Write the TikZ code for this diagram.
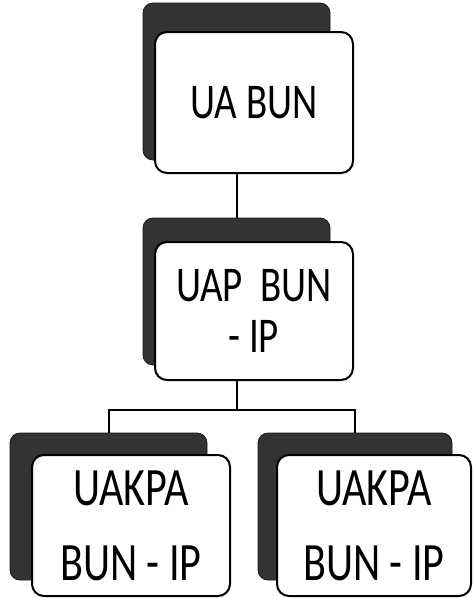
\documentclass[tikz,border=0pt]{standalone}
\usepackage{fontspec}
\newfontfamily\boxfont[FakeStretch=0.78]{Carlito}
\begin{document}
\begin{tikzpicture}[x=1pt,y=-1pt,
  shadowbox/.style={fill=black!80, draw=black!90, line width=0.8pt, rounded corners=10pt},
  whitebox/.style={fill=white, draw=black, line width=2pt, rounded corners=12pt, inner sep=0pt, align=center, font=\boxfont},
  conn/.style={draw=black, line width=2pt}]
\useasboundingbox (0,0) rectangle (473,598);
% shadows
\node[shadowbox, minimum width=187pt, minimum height=157pt] (topsh) at (236.5,81.5) {};
\node[shadowbox, minimum width=187pt, minimum height=147pt] (midsh) at (236.5,291.5) {};
\node[shadowbox, minimum width=197pt, minimum height=147pt] (lsh) at (108.5,506.5) {};
\node[shadowbox, minimum width=194pt, minimum height=147pt] (rsh) at (355,506.5) {};
% connectors
\coordinate (bar) at (midsh.north |- 0,410);
\draw[conn] (midsh.north |- 0,173) -- (midsh.north);
\draw[conn] (midsh.north |- 0,380) -- (bar);
\draw[conn] (lsh.north) |- (bar) -| (rsh.north);
% white boxes
\node[whitebox, minimum width=198pt, minimum height=141pt, font=\boxfont\fontsize{50}{52}\selectfont] (top) at (254,102.5) {UA BUN};
\node[whitebox, minimum width=198pt, minimum height=138pt, font=\boxfont\fontsize{50}{51}\selectfont] (mid) at (254,311) {UAP\ \ BUN\\-\,IP};
\node[whitebox, minimum width=198pt, minimum height=141pt, font=\boxfont\fontsize{54}{75}\selectfont] (left) at (131,525.5) {UAKPA\\BUN - IP};
\node[whitebox, minimum width=194pt, minimum height=141pt, font=\boxfont\fontsize{54}{75}\selectfont] (right) at (374,525.5) {UAKPA\\BUN - IP};
\end{tikzpicture}
\end{document}
